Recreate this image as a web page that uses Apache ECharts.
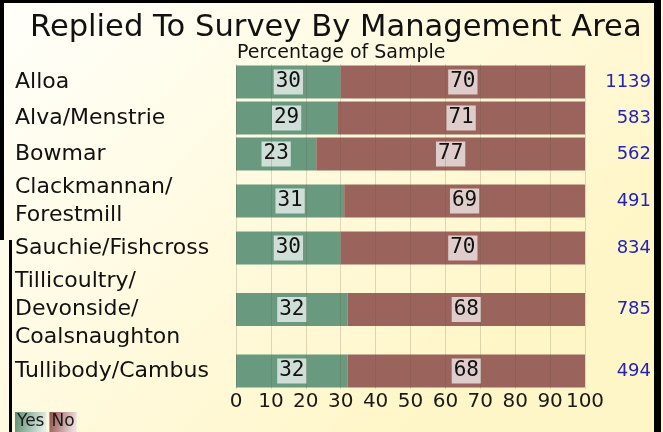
<!DOCTYPE html>
<html>
<head>
<meta charset="utf-8">
<script src="https://cdn.jsdelivr.net/npm/echarts@6/dist/echarts.min.js"></script>
<style>
  html, body { margin: 0; padding: 0; }
  #chart { width: 663px; height: 432px; }
</style>
</head>
<body>
<div id="chart"></div>
<script>
// Management areas (line breaks mark how each name wraps in the row header)
const categories = [
  'Alloa',
  'Alva/Menstrie',
  'Bowmar',
  'Clackmannan/\nForestmill',
  'Sauchie/Fishcross',
  'Tillicoultry/\nDevonside/\nCoalsnaughton',
  'Tullibody/Cambus'
];
// Share of each area's sample that replied (Yes) or did not (No), in percent
const yesPct = [30, 29, 23, 31, 30, 32, 32];
const noPct = [70, 71, 77, 69, 70, 68, 68];
// Sample size per area
const sampleSize = [1139, 583, 562, 491, 834, 785, 494];
// Percentage axis
const axisMin = 0;
const axisMax = 100;
const axisStep = 10;

const FONT = 'DejaVu Sans, Verdana, sans-serif';
const MONO = 'DejaVu Sans Mono, monospace';
const GREEN = '#699a80';
const BROWN = '#9a645c';

const PLOT_LEFT = 236;
const PLOT_RIGHT = 78;
const PLOT_TOP = 64;
const LINE_H = 29;
const ROW_MIN = 36;

const grids = [];
const xAxes = [];
const yAxes = [];
const series = [];

const valueLabel = {
  show: true,
  position: 'inside',
  fontFamily: MONO,
  fontSize: 21,
  color: '#111',
  backgroundColor: 'rgba(255,255,255,0.68)',
  padding: [2, 2, 1, 2],
  lineHeight: 22
};

let rowTop = PLOT_TOP;
categories.forEach((name, i) => {
  const lines = name.split('\n').length;
  const rowH = Math.max(ROW_MIN, lines * LINE_H);
  const last = i === categories.length - 1;

  grids.push({ left: PLOT_LEFT, right: PLOT_RIGHT, top: rowTop, height: rowH });
  rowTop += rowH;

  xAxes.push({
    type: 'value',
    gridIndex: i,
    min: axisMin,
    max: axisMax,
    interval: axisStep,
    z: 3,
    axisLine: { show: false },
    axisTick: { show: false },
    splitLine: { show: true, lineStyle: { color: 'rgba(95,75,50,0.2)', width: 1 } },
    axisLabel: {
      show: last,
      margin: 3,
      fontFamily: FONT,
      fontSize: 20,
      color: '#1a1a1a'
    }
  });

  yAxes.push({
    type: 'category',
    gridIndex: i,
    data: [name],
    position: 'left',
    axisLine: { show: false },
    axisTick: { show: false },
    splitLine: { show: false },
    axisLabel: {
      align: 'left',
      margin: PLOT_LEFT - 15,
      fontFamily: FONT,
      fontSize: 22,
      lineHeight: 28,
      color: '#111'
    }
  });
  yAxes.push({
    type: 'category',
    gridIndex: i,
    data: [String(sampleSize[i])],
    position: 'right',
    axisLine: { show: false },
    axisTick: { show: false },
    splitLine: { show: false },
    axisLabel: {
      align: 'right',
      margin: 66,
      fontFamily: FONT,
      fontSize: 18,
      color: '#2323b8'
    }
  });

  series.push({
    type: 'bar',
    name: 'Yes',
    xAxisIndex: i,
    yAxisIndex: i * 2,
    stack: 'row' + i,
    barWidth: 33,
    data: [yesPct[i]],
    itemStyle: { color: GREEN },
    label: valueLabel
  });
  series.push({
    type: 'bar',
    name: 'No',
    xAxisIndex: i,
    yAxisIndex: i * 2,
    stack: 'row' + i,
    barWidth: 33,
    data: [noPct[i]],
    itemStyle: { color: BROWN },
    label: valueLabel
  });
});

const fade = (from, to) => ({
  type: 'linear', x: 0, y: 0, x2: 1, y2: 0.3,
  colorStops: [{ offset: 0, color: from }, { offset: 1, color: to }]
});

const option = {
  animation: false,
  title: [
    {
      text: 'Replied To Survey By Management Area',
      left: 25,
      top: 8,
      textStyle: { fontFamily: FONT, fontSize: 30.6, fontWeight: 'normal', color: '#111' }
    },
    {
      text: 'Percentage of Sample',
      left: PLOT_LEFT - 4,
      top: 39,
      textStyle: { fontFamily: FONT, fontSize: 19, fontWeight: 'normal', color: '#111' }
    }
  ],
  legend: {
    left: 5,
    top: 407,
    itemWidth: 0,
    itemHeight: 0,
    itemGap: -2,
    icon: 'rect',
    selectedMode: false,
    textStyle: { fontFamily: FONT, fontSize: 17, color: '#1a1a1a', padding: [2, 2, 1, 2] },
    data: [
      { name: 'Yes', textStyle: { backgroundColor: fade('#5c8c72', '#e4eee6') } },
      { name: 'No', textStyle: { backgroundColor: fade('#8e5048', '#eedede') } }
    ]
  },
  graphic: [
    {
      type: 'rect',
      z: -10,
      silent: true,
      shape: { x: 0, y: 0, width: 663, height: 432 },
      style: {
        fill: {
          type: 'linear', x: 0, y: 0, x2: 0.6, y2: 1,
          colorStops: [
            { offset: 0, color: '#fffffb' },
            { offset: 1, color: '#fff6c8' }
          ]
        }
      }
    },
    { type: 'rect', z: 100, silent: true, shape: { x: 0, y: 0, width: 661, height: 3 }, style: { fill: '#000' } },
    { type: 'rect', z: 100, silent: true, shape: { x: 654, y: 0, width: 7, height: 432 }, style: { fill: '#000' } },
    { type: 'rect', z: 100, silent: true, shape: { x: 0, y: 0, width: 4, height: 240 }, style: { fill: '#000' } },
    { type: 'rect', z: 100, silent: true, shape: { x: 9, y: 240, width: 3, height: 192 }, style: { fill: '#000' } }
  ],
  grid: grids,
  xAxis: xAxes,
  yAxis: yAxes,
  series: series
};

const chart = echarts.init(document.getElementById('chart'), null, { renderer: 'canvas' });
chart.setOption(option);
</script>
</body>
</html>
